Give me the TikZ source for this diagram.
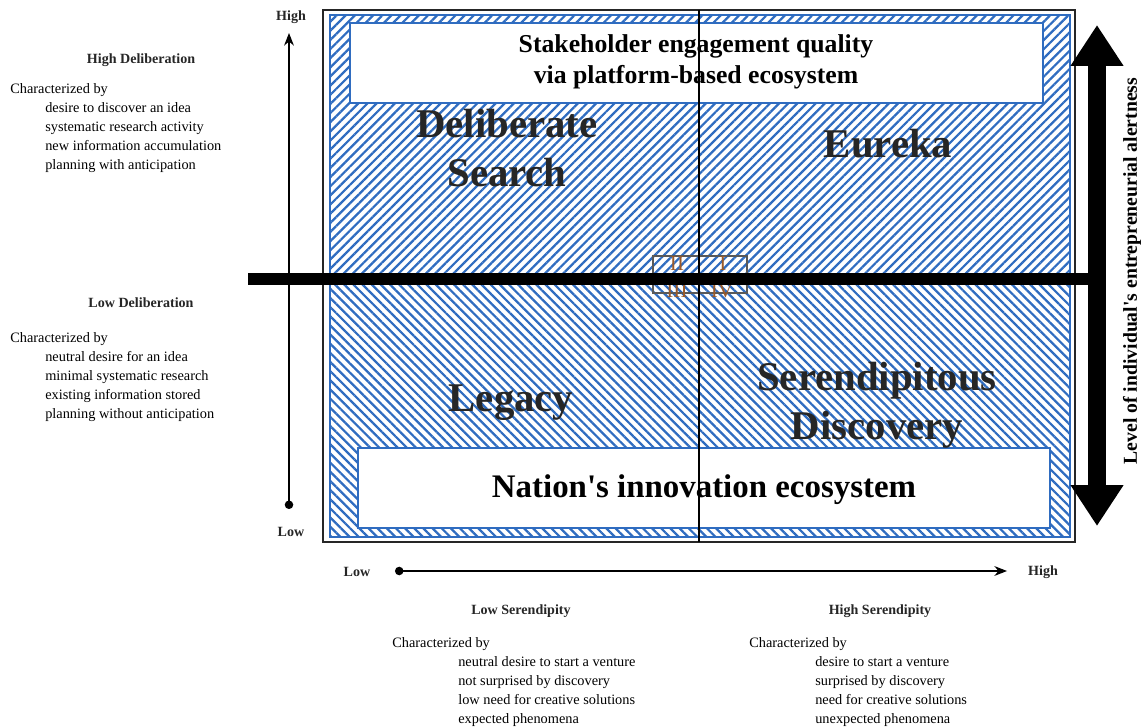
\documentclass[tikz,border=0pt]{standalone}
\usepackage{fontspec}
\setmainfont{Liberation Serif}
\usetikzlibrary{arrows.meta,positioning,patterns.meta}
\definecolor{hatchblue}{HTML}{2F6CC0}
\definecolor{numbrown}{HTML}{9A5A2A}
\definecolor{labgray}{HTML}{262626}

\begin{document}
\begin{tikzpicture}[x=0.025cm, y=-0.025cm,
  desc/.style={align=left, inner sep=0pt, anchor=north west, font=\fontsize{10.2}{13.5}\selectfont},
  head/.style={inner sep=0pt, font=\fontsize{10}{12}\selectfont\bfseries, text=labgray},
  quad/.style={align=center, inner sep=0pt, font=\fontsize{29}{35}\selectfont\bfseries, text=labgray},
  whitebox/.style={draw=hatchblue, line width=1.2pt, fill=white},
  numeral/.style={inner sep=0pt, font=\fontsize{15}{15}\selectfont, text=numbrown},
  axis/.style={line width=0.8pt, {Circle[length=6pt]}-{Stealth[length=9pt,width=7pt]}}]
  \useasboundingbox (0,0) rectangle (1145,727);

  % hatched quadrants
  \fill[pattern={Lines[angle=45,distance=4.6pt,line width=1.6pt]}, pattern color=hatchblue] (330,15) rectangle (1070,279);
  \fill[pattern={Lines[angle=-45,distance=4.6pt,line width=1.6pt]}, pattern color=hatchblue] (330,279) rectangle (1070,537);
  \draw[hatchblue, line width=1.2pt] (330,15) rectangle (1070,537);

  % ecosystem boxes
  \draw[whitebox] (350,23) rectangle (1043,103);
  \node[align=center, font=\fontsize{18.3}{22}\selectfont\bfseries] (platform) at (696,62) {Stakeholder engagement quality\\via platform-based ecosystem};
  \draw[whitebox] (358,448) rectangle (1050,528);
  \node[font=\fontsize{23.4}{26}\selectfont\bfseries] (nation) at (704,490) {Nation\textquotesingle s innovation ecosystem};

  \node[quad] (delib) at (507,148) {Deliberate\\Search};
  \node[quad] (eureka) at (888,144) {Eureka};
  \node[quad] (legacy) at (511,403) {Legacy};
  \node[quad] (serend) at (877,405) {Serendipitous\\Discovery};

  % quadrant numbers
  \draw[black!65, line width=1pt] (653,256) rectangle (747,293);
  \node[numeral] (qII) at (677,264) {II};
  \node[numeral] (qI) at (723,264) {I};
  \node[numeral] (qIII) at (677,291) {III};
  \node[numeral] (qIV) at (722,291) {IV};

  % frame and cross
  \draw[line width=1.8pt, black!85] (323,10) rectangle (1075,542);
  \coordinate (midtop) at (699,10);
  \coordinate (midbot) at (699,542);
  \draw[line width=1.8pt] (midtop) -- (midbot);
  \coordinate (barL) at (248,279);
  \coordinate (barR) at (1100,279);
  \draw[line width=0.3cm] (barL) -- (barR);

  % deliberation axis
  \coordinate (vlow) at (289,509);
  \coordinate (vhigh) at (289,33);
  \draw[axis] (vlow) -- (vhigh);
  \node[head] (vhightxt) at (291,17) {High};
  \node[head] (vlowtxt) at (291,532) {Low};

  % serendipity axis
  \coordinate (hlow) at (395,571);
  \coordinate (hhigh) at (1007,571);
  \draw[axis] (hlow) -- (hhigh);
  \node[head] (hlowtxt) at (357,572) {Low};
  \node[head] (hhightxt) at (1043,572) {High};

  % alertness arrow
  \coordinate (alertlow) at (1097,526);
  \coordinate (alerthigh) at (1097,25);
  \draw[line width=0.45cm, {Triangle[width=1.25cm,length=1.02cm]}-{Triangle[width=1.25cm,length=1.02cm]}] (alertlow) -- (alerthigh);
  \node[rotate=90, font=\fontsize{14}{15}\selectfont\bfseries] (alert) at (1132,271) {Level of individual\textquotesingle s entrepreneurial alertness};

  % deliberation notes
  \node[head] (hidelib) at (141,60) {High Deliberation};
  \node[desc] (hidesc) at (10,83) {Characterized by\\\hspace*{0.875cm}desire to discover an idea\\\hspace*{0.875cm}systematic research activity\\\hspace*{0.875cm}new information accumulation\\\hspace*{0.875cm}planning with anticipation};
  \node[head] (lodelib) at (141,303) {Low Deliberation};
  \node[desc] (lodesc) at (10,332) {Characterized by\\\hspace*{0.875cm}neutral desire for an idea\\\hspace*{0.875cm}minimal systematic research\\\hspace*{0.875cm}existing information stored\\\hspace*{0.875cm}planning without anticipation};

  % serendipity notes
  \node[head] (loser) at (521,611) {Low Serendipity};
  \node[desc] (loserdesc) at (392,637) {Characterized by\\\hspace*{1.65cm}neutral desire to start a venture\\\hspace*{1.65cm}not surprised by discovery\\\hspace*{1.65cm}low need for creative solutions\\\hspace*{1.65cm}expected phenomena};
  \node[head] (hiser) at (880,611) {High Serendipity};
  \node[desc] (hiserdesc) at (749,637) {Characterized by\\\hspace*{1.65cm}desire to start a venture\\\hspace*{1.65cm}surprised by discovery\\\hspace*{1.65cm}need for creative solutions\\\hspace*{1.65cm}unexpected phenomena};
\end{tikzpicture}
\end{document}
